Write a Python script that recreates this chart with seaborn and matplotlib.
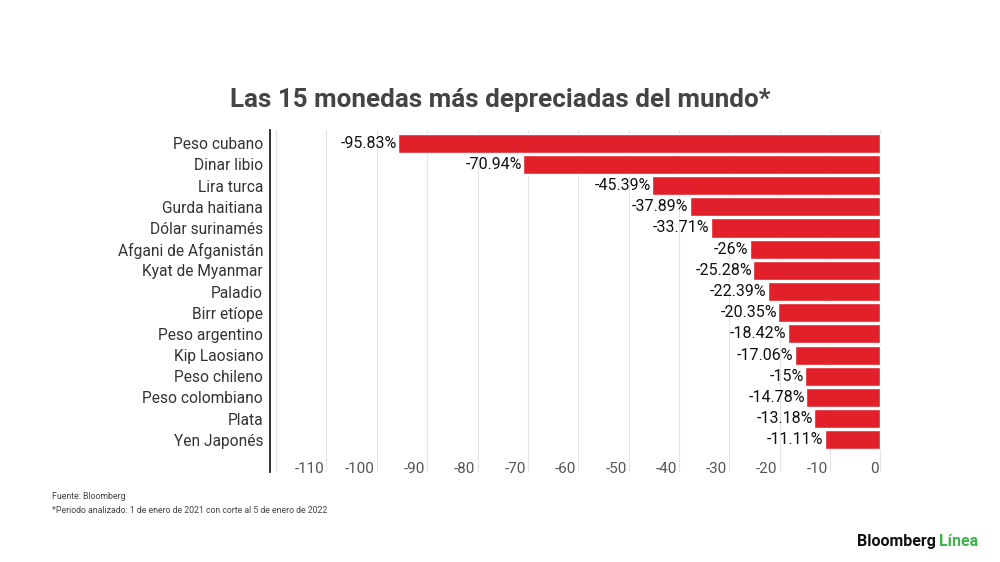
import matplotlib
matplotlib.use('Agg')
import matplotlib.pyplot as plt
import matplotlib.transforms as mtransforms
import seaborn as sns
import pandas as pd

# Data
monedas = ['Peso cubano', 'Dinar libio', 'Lira turca', 'Gurda haitiana',
           'Dólar surinamés', 'Afgani de Afganistán', 'Kyat de Myanmar',
           'Paladio', 'Birr etíope', 'Peso argentino', 'Kip Laosiano',
           'Peso chileno', 'Peso colombiano', 'Plata', 'Yen Japonés']
variacion = [-95.83, -70.94, -45.39, -37.89, -33.71, -26, -25.28, -22.39,
             -20.35, -18.42, -17.06, -15, -14.78, -13.18, -11.11]
ticks = list(range(-120, 1, 10))
tick_labels = [''] + [str(t) for t in ticks[1:]]

df = pd.DataFrame({'moneda': monedas, 'variacion': variacion})

sns.set_style("white")
plt.rcParams['font.family'] = ['Roboto', 'DejaVu Sans']

colors = {
    'bar': '#e2202a',
    'text': '#333333',
    'tick': '#555555',
    'grid': '#e3e3e3',
    'green': '#3db54a',
}

fig = plt.figure(figsize=(10, 5.62), dpi=100)
ax = fig.add_axes([0.27, 0.160, 0.613, 0.6085])

sns.barplot(data=df, x='variacion', y='moneda', orient='h',
            color=colors['bar'], saturation=1, width=0.9, ax=ax, zorder=3)

# Value labels at the left end of each bar
for i, v in enumerate(df['variacion']):
    ax.text(v - 0.2, i, f"{v:g}%", ha='right', va='center',
            fontsize=11.5, color='#111111', zorder=4)

ax.set_xlim(-121.2, 0.5)
ax.set_ylim(15.52, -0.62)
ax.set_xticks(ticks)
ax.set_xticklabels(tick_labels)
for lbl in ax.get_xticklabels():
    lbl.set_horizontalalignment('right')
ax.tick_params(axis='x', length=0, pad=-7, labelsize=11, labelcolor=colors['tick'])
ax.tick_params(axis='y', length=0, pad=5, labelsize=11.2, labelcolor=colors['text'])
ax.xaxis.grid(True, color=colors['grid'], linewidth=0.8, zorder=0)
ax.set_xlabel('')
ax.set_ylabel('')

for side in ['top', 'right', 'bottom']:
    ax.spines[side].set_visible(False)
ax.spines['left'].set_color('#222222')
ax.spines['left'].set_linewidth(1.3)

# Nudge x labels so they sit just left of their gridline
offset = mtransforms.ScaledTranslation(-2 / 100, 0, fig.dpi_scale_trans)
for lbl in ax.get_xticklabels():
    lbl.set_transform(lbl.get_transform() + offset)

fig.text(0.5, 0.822, 'Las 15 monedas más depreciadas del mundo*',
         ha='center', va='center', fontsize=18.7, fontweight='bold', color='#444444')

fig.text(0.052, 0.117, 'Fuente: Bloomberg', fontsize=6.3, color='#444444', va='center')
fig.text(0.052, 0.092, '*Periodo analizado: 1 de enero de 2021 con corte al 5 de enero de 2022',
         fontsize=6.3, color='#444444', va='center')

fig.text(0.936, 0.036, 'Bloomberg', ha='right', va='center', fontsize=11.5,
         fontweight='bold', color='#111111')
fig.text(0.939, 0.036, 'Línea', ha='left', va='center', fontsize=11.5,
         fontweight='bold', color=colors['green'])

fig.savefig('out.png', dpi=100)
